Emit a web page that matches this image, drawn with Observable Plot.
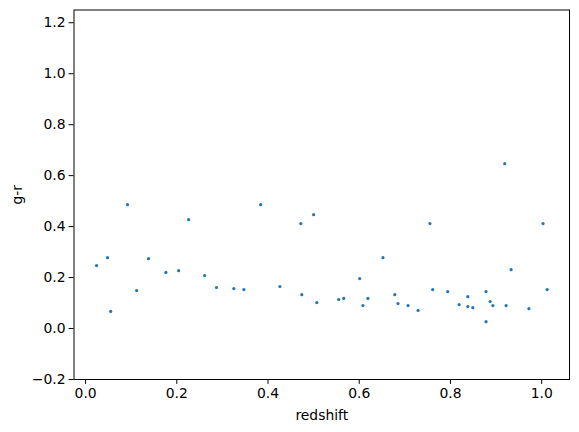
<!DOCTYPE html>
<html>
<head>
<meta charset="utf-8">
<script src="https://cdn.jsdelivr.net/npm/d3@7"></script>
<script src="https://cdn.jsdelivr.net/npm/@observablehq/plot@0.6"></script>
<style>
html, body { margin: 0; padding: 0; background: #fff; }
</style>
</head>
<body>
<div id="chart"></div>
<script>
const redshift = [0.024, 0.048, 0.055, 0.092, 0.112, 0.138, 0.176, 0.204, 0.226, 0.261,
  0.287, 0.325, 0.347, 0.384, 0.426, 0.472, 0.474, 0.500, 0.507, 0.555,
  0.566, 0.601, 0.608, 0.619, 0.652, 0.678, 0.685, 0.707, 0.729, 0.755,
  0.761, 0.794, 0.819, 0.838, 0.838, 0.849, 0.878, 0.878, 0.887, 0.893,
  0.919, 0.922, 0.933, 0.972, 1.003, 1.012];
const gr = [0.247, 0.278, 0.067, 0.486, 0.149, 0.274, 0.220, 0.227, 0.427, 0.208,
  0.161, 0.157, 0.153, 0.486, 0.165, 0.412, 0.133, 0.447, 0.102, 0.114,
  0.118, 0.196, 0.090, 0.118, 0.278, 0.133, 0.098, 0.090, 0.071, 0.412,
  0.153, 0.145, 0.094, 0.125, 0.086, 0.082, 0.145, 0.027, 0.106, 0.090,
  0.647, 0.090, 0.231, 0.078, 0.412, 0.153];
const xTicks = [0.0, 0.2, 0.4, 0.6, 0.8, 1.0];
const yTicks = [-0.2, 0.0, 0.2, 0.4, 0.6, 0.8, 1.0, 1.2];

const data = redshift.map((r, i) => ({redshift: r, gr: gr[i]}));

const chart = Plot.plot({
  width: 579,
  height: 432,
  marginLeft: 73.5,
  marginRight: 10,
  marginTop: 9.5,
  marginBottom: 53,
  style: {fontFamily: "DejaVu Sans, sans-serif", fontSize: "13.9px", color: "#000", background: "#fff"},
  x: {domain: [-0.0254, 1.061], ticks: xTicks, tickFormat: d3.format(".1f")},
  y: {domain: [-0.2, 1.25], ticks: yTicks, tickFormat: d3.format(".1f")},
  marks: [
    Plot.frame({stroke: "#000", strokeWidth: 1}),
    Plot.axisX({ticks: xTicks, tickFormat: d3.format(".1f"), tickSize: 4.9, tickPadding: 3.5,
      label: "redshift", labelAnchor: "center", labelArrow: "none", labelOffset: 40, fontSize: "13.9px"}),
    Plot.axisY({ticks: yTicks, tickFormat: d3.format(".1f"), tickSize: 4.9, tickPadding: 3.5,
      label: "g-r", labelAnchor: "center", labelArrow: "none", labelOffset: 62, fontSize: "13.9px"}),
    Plot.dot(data, {x: "redshift", y: "gr", r: 1.6, fill: "#1f77b4", stroke: "none"})
  ]
});
document.getElementById("chart").appendChild(chart);
</script>
</body>
</html>
